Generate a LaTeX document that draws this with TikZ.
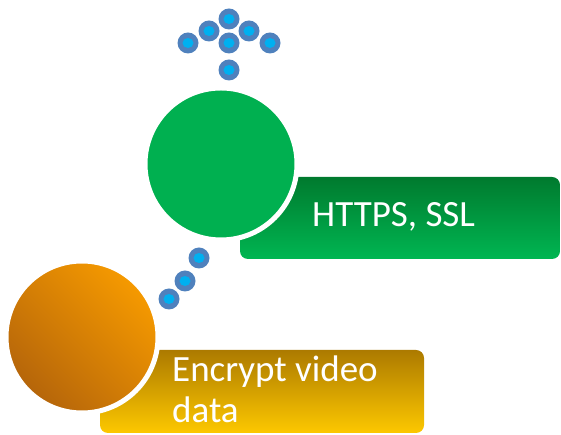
\documentclass[tikz,border=0pt]{standalone}
\usepackage{fontspec}
\setmainfont{Carlito}
\usetikzlibrary{shapes.geometric}
\definecolor{gdark}{HTML}{007A2E}
\definecolor{glight}{HTML}{00B652}
\definecolor{gcircle}{HTML}{00B050}
\definecolor{odark}{HTML}{B5650A}
\definecolor{olight}{HTML}{F69A00}
\definecolor{ydark}{HTML}{AC7A00}
\definecolor{ylight}{HTML}{FDC800}
\definecolor{dotring}{HTML}{4F81BD}
\definecolor{dotcore}{HTML}{00B0F0}
\tikzset{
  x=1pt, y=1pt,
  bigdisc/.style={circle, minimum size=152pt, inner sep=0pt, draw=white, line width=5pt},
  labelbox/.style={rounded corners=8pt},
  labeltext/.style={inner sep=0pt, text=white, font=\fontsize{37}{41}\selectfont},
  dotouter/.style={ellipse, fill=dotring, inner sep=0pt, minimum width=21pt, minimum height=21pt},
  dotinner/.style={ellipse, fill=dotcore, inner sep=0pt, minimum width=11pt, minimum height=10pt},
}
\newcommand{\bead}[3]{%
  \node[dotouter] (#1) at (#2,#3) {};
  \node[dotinner] (#1-core) at (#2,#3) {};}
\begin{document}
\begin{tikzpicture}
\useasboundingbox (0,0) rectangle (561,435);

% green label box: dark at the top, bright at the bottom
\shade[labelbox, top color=gdark, bottom color=glight]
  (240,176) rectangle (560,258);
\node[labeltext, anchor=base west] (https) at (312,208) {HTTPS, SSL};

% yellow label box: vertical gradient
\shade[labelbox, top color=ydark, bottom color=ylight]
  (100,2) rectangle (424,85);
\node[labeltext, anchor=base west] (enc) at (172,53) {Encrypt video};
\node[labeltext, anchor=base west] (data) at (172,12) {data};

% big discs with white halo, overlapping the box corners
\node[bigdisc, fill=gcircle] (green) at (221,271) {};
\node[bigdisc, left color=odark, right color=olight, shading angle=135] (orange) at (82,98) {};

% arrow made of beads above the green disc
\bead{t1}{229}{416}
\bead{t2}{209}{404}
\bead{t3}{249}{404}
\bead{t4}{188}{392}
\bead{t5}{270}{392}
\bead{t6}{229}{392}
\bead{t7}{229}{365}

% beads between the discs
\bead{m1}{199}{177}
\bead{m2}{185}{154}
\bead{m3}{169}{136}
\end{tikzpicture}
\end{document}
